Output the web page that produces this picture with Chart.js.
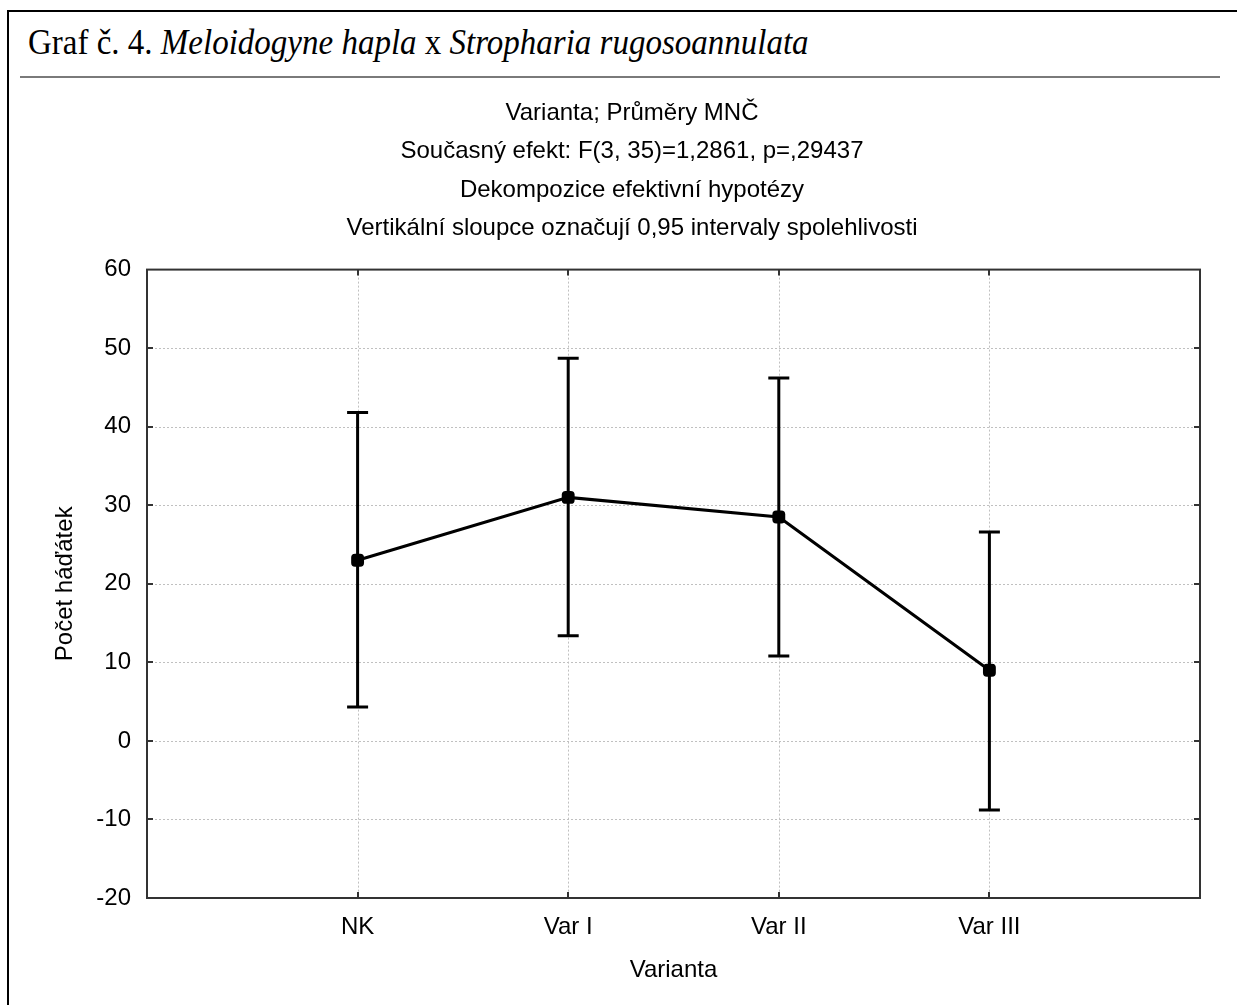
<!DOCTYPE html>
<html>
<head>
<meta charset="utf-8">
<script src="https://cdn.jsdelivr.net/npm/chart.js@4/dist/chart.umd.min.js"></script>
<style>
  html, body { margin: 0; padding: 0; background: #fff; width: 1237px; height: 1005px; overflow: hidden; }
  #frame { position: absolute; left: 7px; top: 10px; width: 1300px; height: 1100px; border-left: 2px solid #000; border-top: 2px solid #000; }
  #head { position: absolute; left: 28px; top: 22px; font-family: "Liberation Serif", "Times New Roman", serif; font-size: 33px; color: #000; white-space: nowrap; transform: scaleY(1.1); transform-origin: 0 0; }
  #rule { position: absolute; left: 20px; top: 76px; width: 1200px; height: 0; border-top: 2px solid #7a7a7a; }
  #wrap { position: absolute; left: 0; top: 0; width: 1237px; height: 1005px; }
</style>
</head>
<body>
<div id="frame"></div>
<div id="head">Graf č. 4. <i>Meloidogyne hapla</i> x <i>Stropharia rugosoannulata</i></div>
<div id="rule"></div>
<div id="wrap"><canvas id="c" width="1237" height="1005"></canvas></div>
<script>
const categories = ["NK", "Var I", "Var II", "Var III"];
const means = [23.0, 31.0, 28.5, 9.0];
const lowerCI = [4.3, 13.4, 10.8, -8.8];
const upperCI = [41.8, 48.7, 46.2, 26.6];
const yTicks = [-20, -10, 0, 10, 20, 30, 40, 50, 60];
const titleLines = [
  "Varianta; Průměry MNČ",
  "Současný efekt: F(3, 35)=1,2861, p=,29437",
  "Dekompozice efektivní hypotézy",
  "Vertikální sloupce označují 0,95 intervaly spolehlivosti"
];
const xTitle = "Varianta";
const yTitle = "Počet háďátek";

const FONT = "'Liberation Sans', Arial, sans-serif";

const decor = {
  id: 'decor',
  beforeDatasetsDraw(chart) {
    const {ctx, chartArea: a, scales: {x, y}} = chart;
    ctx.save();
    ctx.strokeStyle = '#c0c0c0';
    ctx.lineWidth = 1;
    ctx.setLineDash([2, 2]);
    yTicks.forEach(v => {
      if (v <= y.min || v >= y.max) return;
      const py = Math.round(y.getPixelForValue(v)) + 0.5;
      ctx.beginPath(); ctx.moveTo(a.left, py); ctx.lineTo(a.right, py); ctx.stroke();
    });
    categories.forEach((c, i) => {
      const px = Math.round(x.getPixelForValue(i + 1)) + 0.5;
      ctx.beginPath(); ctx.moveTo(px, a.top); ctx.lineTo(px, a.bottom); ctx.stroke();
    });
    ctx.setLineDash([]);
    ctx.strokeStyle = '#000';
    ctx.lineWidth = 3;
    categories.forEach((c, i) => {
      const px = x.getPixelForValue(i + 1);
      const pl = y.getPixelForValue(lowerCI[i]);
      const pu = y.getPixelForValue(upperCI[i]);
      ctx.beginPath();
      ctx.moveTo(px, pl); ctx.lineTo(px, pu);
      ctx.moveTo(px - 10.5, pu); ctx.lineTo(px + 10.5, pu);
      ctx.moveTo(px - 10.5, pl); ctx.lineTo(px + 10.5, pl);
      ctx.stroke();
    });
    ctx.restore();
  },
  afterDatasetsDraw(chart) {
    const {ctx, chartArea: a, scales: {x, y}} = chart;
    ctx.save();
    ctx.strokeStyle = '#333';
    ctx.lineWidth = 2;
    ctx.strokeRect(a.left, a.top, a.right - a.left, a.bottom - a.top);
    ctx.beginPath();
    yTicks.forEach(v => {
      if (v <= y.min || v >= y.max) return;
      const py = Math.round(y.getPixelForValue(v));
      ctx.moveTo(a.left, py); ctx.lineTo(a.left + 6, py);
      ctx.moveTo(a.right, py); ctx.lineTo(a.right - 6, py);
    });
    categories.forEach((c, i) => {
      const px = Math.round(x.getPixelForValue(i + 1));
      ctx.moveTo(px, a.bottom); ctx.lineTo(px, a.bottom - 6);
      ctx.moveTo(px, a.top); ctx.lineTo(px, a.top + 6);
    });
    ctx.stroke();
    ctx.restore();
  }
};

new Chart(document.getElementById('c'), {
  type: 'line',
  data: {
    datasets: [{
      data: means.map((m, i) => ({x: i + 1, y: m})),
      borderColor: '#000',
      backgroundColor: '#000',
      borderWidth: 3,
      pointRadius: 7.5,
      pointStyle: 'rectRounded',
      pointBackgroundColor: '#000',
      pointBorderColor: '#000',
      pointBorderWidth: 0,
      tension: 0
    }]
  },
  options: {
    responsive: false,
    animation: false,
    devicePixelRatio: 1,
    layout: { padding: { left: 64, right: 37, top: 0, bottom: 0 } },
    plugins: {
      legend: { display: false },
      tooltip: { enabled: false },
      title: {
        display: true,
        text: titleLines,
        color: '#000',
        font: { family: FONT, size: 24, weight: 'normal', lineHeight: 1.6 },
        padding: { top: 94, bottom: 22 }
      }
    },
    scales: {
      x: {
        type: 'linear',
        min: 0, max: 5,
        grid: { display: false, drawTicks: false },
        border: { display: false },
        afterFit: s => { s.height = 107; },
        afterBuildTicks: s => { s.ticks = categories.map((c, i) => ({value: i + 1})); },
        ticks: {
          autoSkip: false,
          maxRotation: 0,
          padding: 15,
          color: '#000',
          font: { family: FONT, size: 24 },
          callback: v => categories[v - 1] ?? ''
        },
        title: { display: true, text: xTitle, color: '#000', font: { family: FONT, size: 24 }, padding: { top: 0, bottom: 20 } }
      },
      y: {
        min: -20, max: 60,
        grid: { display: false, drawTicks: false },
        border: { display: false },
        afterFit: s => { s.width = 83; },
        afterBuildTicks: s => { s.ticks = yTicks.map(v => ({value: v})); },
        ticks: {
          padding: 16,
          color: '#000',
          font: { family: FONT, size: 24 }
        },
        title: { display: true, text: yTitle, color: '#000', font: { family: FONT, size: 24 }, padding: { top: -13, bottom: 0 } }
      }
    }
  },
  plugins: [decor]
});
</script>
</body>
</html>
